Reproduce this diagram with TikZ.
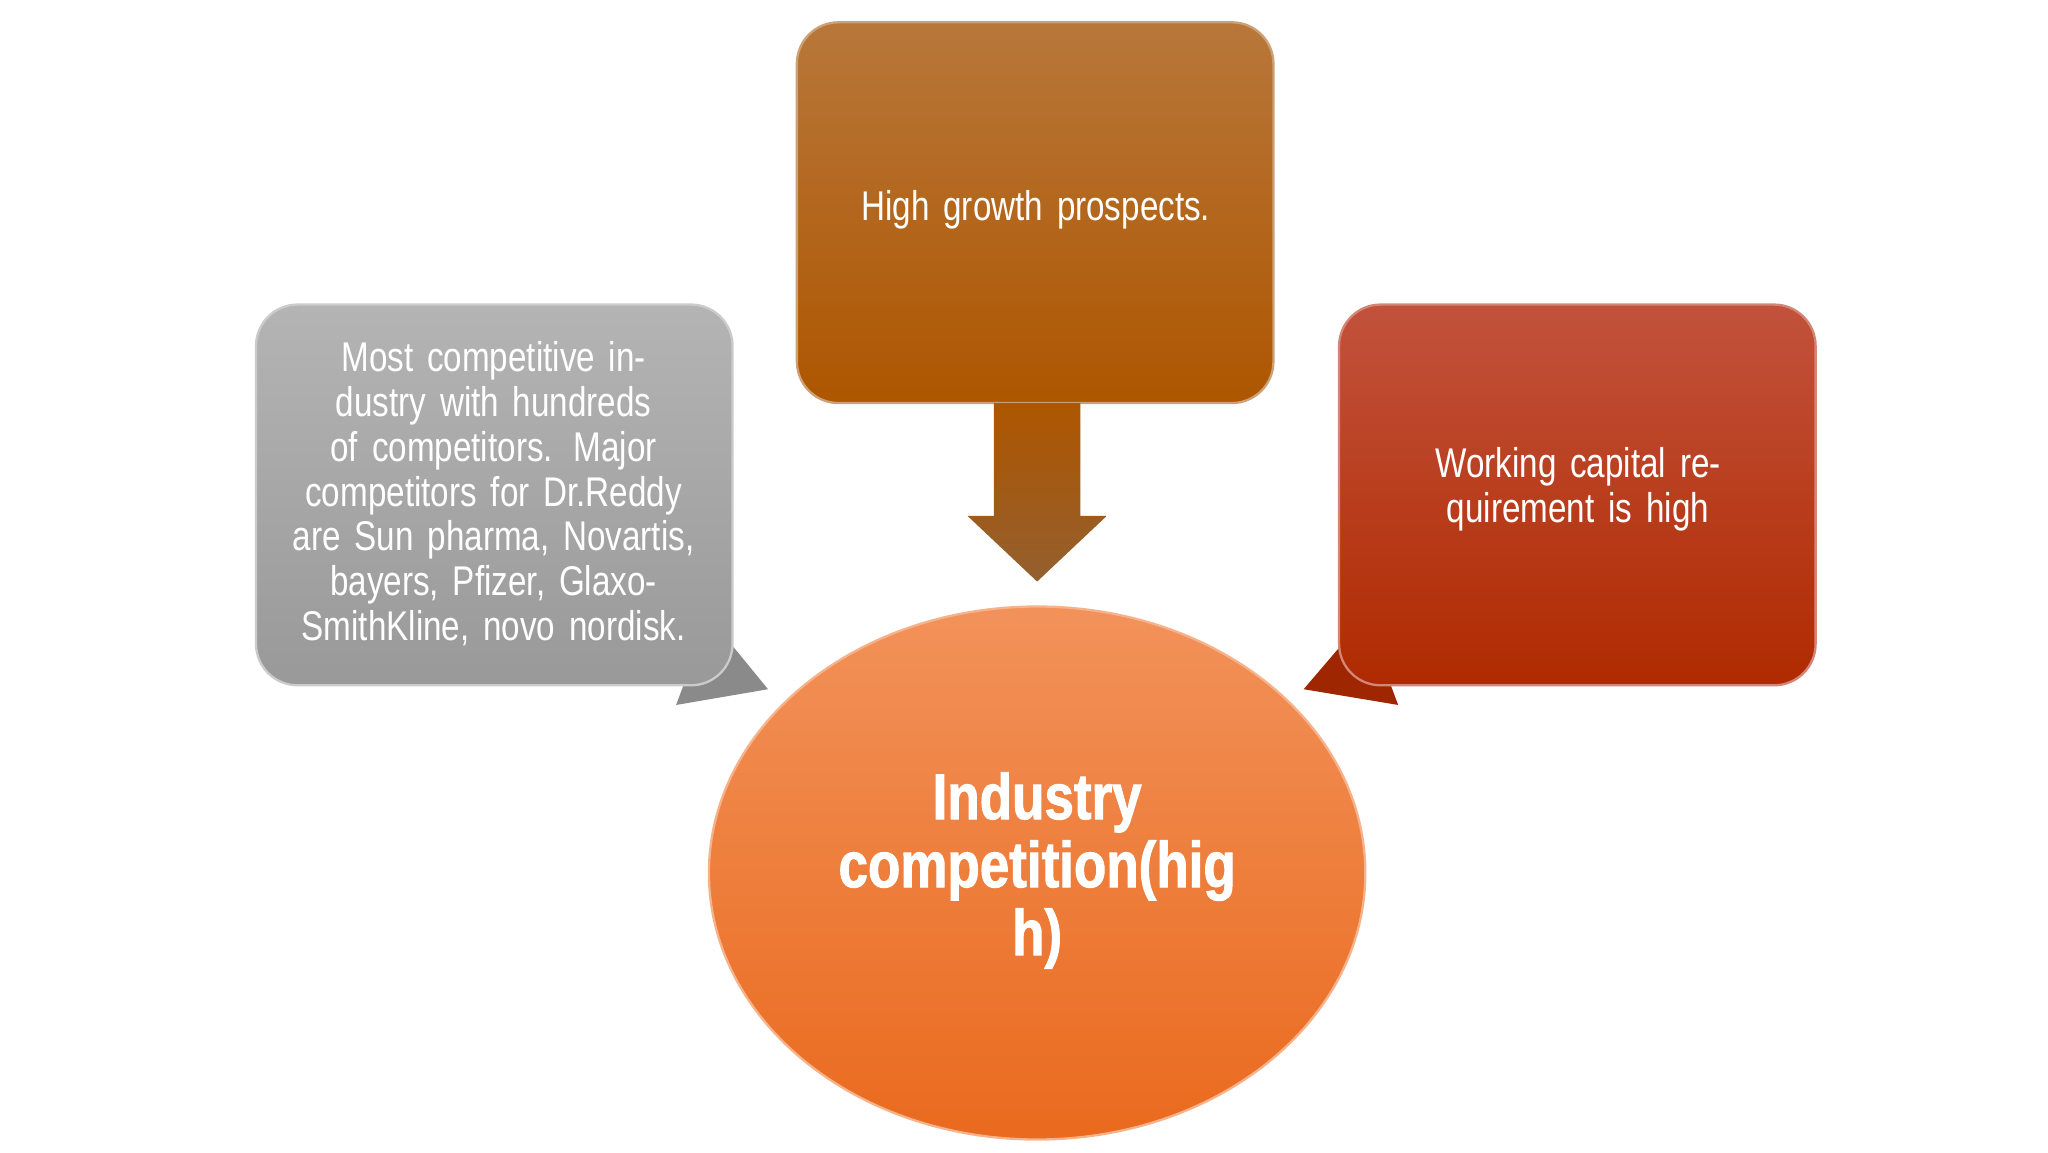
\documentclass[tikz,border=0pt]{standalone}
\usepackage{fontspec}
\setmainfont{Liberation Sans}
\newfontfamily\narrowf[FakeStretch=0.8]{Liberation Sans}
\newfontfamily\heavyf[FakeStretch=0.82,FakeBold=1.5]{Liberation Sans Bold}
\definecolor{orA}{HTML}{B8773A}\definecolor{orB}{HTML}{AE5600}
\definecolor{grA}{HTML}{B4B4B4}\definecolor{grB}{HTML}{999999}
\definecolor{rdA}{HTML}{C2523C}\definecolor{rdB}{HTML}{B02A00}
\definecolor{elA}{HTML}{F2925A}\definecolor{elB}{HTML}{EA6A1E}
\tikzset{
 boxtxt/.style={text=white,font=\narrowf\fontsize{18}{19.5}\selectfont,align=center,text width=6.6cm},
 bigtxt/.style={text=white,font=\heavyf\fontsize{28}{29.5}\selectfont,align=center,text width=7cm},
}
\begin{document}
\begin{tikzpicture}[x=0.02cm,y=-0.02cm]
\useasboundingbox (0,0) rectangle (1560,878);
% tails
\fill[grB!90!black] (540,470) -- (585,525) -- (515,537) -- cycle;
\fill[rdB!90!black] (1040,470) -- (993,525) -- (1065,537) -- cycle;
% boxes
\path[top color=orA,bottom color=orB,rounded corners=18pt,draw=orA!70!white,line width=1pt] (607,17) rectangle (970,307);
\node[boxtxt] (t1) at (789,160) {High growth prospects.};
\path[top color=grA,bottom color=grB,rounded corners=18pt,draw=grA!70!white,line width=1pt] (195,232) rectangle (558,522);
\node[boxtxt] (t2) at (376,376) {Most competitive industry with hundreds of competitors. Major competitors for Dr.Reddy are Sun pharma, Novartis, bayers, Pfizer, GlaxoSmithKline, novo nordisk.};
\path[top color=rdA,bottom color=rdB,rounded corners=18pt,draw=rdA!70!white,line width=1pt] (1020,232) rectangle (1383,522);
\node[boxtxt] (t3) at (1202,373) {Working capital requirement is high};
% arrow
\path[top color=orB,bottom color=orA!80!black] (757,307) -- (823,307) -- (823,393) -- (843,393) -- (790,443) -- (737,393) -- (757,393) -- cycle;
% ellipse
\path[top color=elA,bottom color=elB,draw=elA!70!white,line width=1pt] (790,665) ellipse [x radius=250,y radius=203];
\node[bigtxt] (c) at (790,663) {Industry\\competition(hig\\h)};
\end{tikzpicture}
\end{document}
